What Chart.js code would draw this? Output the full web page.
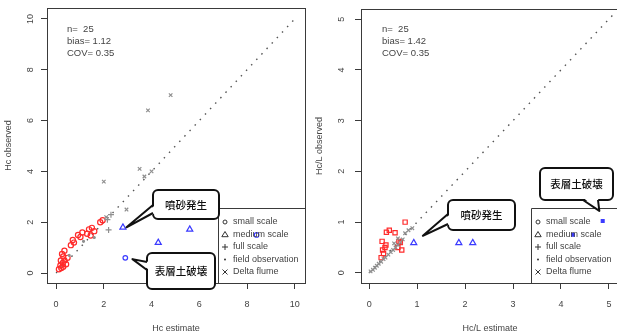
<!DOCTYPE html>
<html>
<head>
<meta charset="utf-8">
<script src="https://cdn.jsdelivr.net/npm/chart.js"></script>
<style>
  html, body { margin: 0; padding: 0; background: white; width: 617px; height: 336px; overflow: hidden; }
  .panel { position: absolute; top: 0; height: 336px; }
  #p1 { left: 0; width: 310px; }
  #p2 { left: 310px; width: 316px; }
</style>
</head>
<body>
<div class="panel" id="p1"><canvas id="c1"></canvas></div>
<div class="panel" id="p2"><canvas id="c2"></canvas></div>
<script>
// ---- left panel (Hc) ----
const leftTicks = [0, 2, 4, 6, 8, 10];
const leftRedX = [0.12, 0.18, 0.22, 0.28, 0.3, 0.35, 0.2, 0.3, 0.42, 0.25, 0.48, 0.35, 0.62, 0.7, 0.75, 0.92, 1.02, 1.1, 1.3, 1.38, 1.5, 1.6, 1.45, 1.85, 1.95];
const leftRedY = [0.15, 0.3, 0.2, 0.4, 0.25, 0.5, 0.5, 0.65, 0.35, 0.75, 0.6, 0.88, 1.1, 1.3, 1.2, 1.5, 1.42, 1.6, 1.55, 1.72, 1.78, 1.65, 1.48, 2.0, 2.08];
const leftFullX = [2.2, 2.15, 2.3];
const leftFullY = [1.7, 2.1, 2.3];
const leftDeltaX = [2.0, 3.85, 4.8, 3.5, 4.0, 3.7, 2.95, 2.1];
const leftDeltaY = [3.6, 6.4, 7.0, 4.1, 4.0, 3.8, 2.5, 2.2];
const leftFieldX = [0.55, 1.15, 1.6];
const leftFieldY = [0.7, 1.25, 1.4];
const leftBlueTriX = [2.8, 4.28, 5.6];
const leftBlueTriY = [1.8, 1.2, 1.72];
const leftBlueDotX = [2.9, 8.4];
const leftBlueDotY = [0.6, 1.5];
const leftStats = ['n=  25', 'bias= 1.12', 'COV= 0.35'];

// ---- right panel (Hc/L) ----
const rightTicks = [0, 1, 2, 3, 4, 5];
const rightGrayX = [0.03, 0.08, 0.12, 0.16, 0.2, 0.25, 0.3, 0.34, 0.4, 0.45, 0.5, 0.55, 0.6, 0.65, 0.7, 0.52, 0.6, 0.75, 0.82, 0.9];
const rightGrayY = [0.03, 0.06, 0.1, 0.14, 0.18, 0.22, 0.27, 0.3, 0.36, 0.41, 0.45, 0.5, 0.55, 0.6, 0.66, 0.58, 0.68, 0.78, 0.84, 0.88];
const rightRedX = [0.25, 0.3, 0.28, 0.35, 0.27, 0.33, 0.6, 0.65, 0.68, 0.62, 0.36, 0.42, 0.54, 0.75];
const rightRedY = [0.3, 0.38, 0.45, 0.55, 0.62, 0.5, 0.5, 0.6, 0.45, 0.62, 0.8, 0.84, 0.79, 1.0];
const rightBlueTriX = [0.93, 1.87, 2.16];
const rightBlueTriY = [0.59, 0.59, 0.59];
const rightBlueDotX = [4.87, 4.25];
const rightBlueDotY = [1.02, 0.75];
const rightStats = ['n=  25', 'bias= 1.42', 'COV= 0.35'];

const legendLabels = ['small scale', 'medium scale', 'full scale', 'field observation', 'Delta flume'];
const legendSymbols = ['circle', 'triangle', 'cross', 'dot', 'crossRot'];

const RED = '#ff2a2a', BLUE = '#3b3bff', GRAY = '#8f8f8f', INK = '#3a3a3a', TXT = '#444';
const FONT = '"Liberation Sans", Arial, sans-serif';
const CJK = '"Noto Sans CJK JP", sans-serif';

const pts = (xs, ys) => xs.map((x, i) => ({ x: x, y: ys[i] }));

function symbol(ctx, kind, x, y, color) {
  ctx.save();
  ctx.strokeStyle = color; ctx.fillStyle = color; ctx.lineWidth = 1;
  ctx.beginPath();
  if (kind === 'circle') { ctx.arc(x, y, 2, 0, Math.PI * 2); ctx.stroke(); }
  else if (kind === 'triangle') { ctx.moveTo(x, y - 3); ctx.lineTo(x + 3.2, y + 2.2); ctx.lineTo(x - 3.2, y + 2.2); ctx.closePath(); ctx.stroke(); }
  else if (kind === 'cross') { ctx.moveTo(x - 3, y); ctx.lineTo(x + 3, y); ctx.moveTo(x, y - 3); ctx.lineTo(x, y + 3); ctx.stroke(); }
  else if (kind === 'dot') { ctx.arc(x, y, 1, 0, Math.PI * 2); ctx.fill(); }
  else { ctx.moveTo(x - 2.5, y - 2.5); ctx.lineTo(x + 2.5, y + 2.5); ctx.moveTo(x + 2.5, y - 2.5); ctx.lineTo(x - 2.5, y + 2.5); ctx.stroke(); }
  ctx.restore();
}

function callout(ctx, c, tip) {
  ctx.save();
  ctx.lineWidth = 2; ctx.strokeStyle = '#111'; ctx.fillStyle = '#fff'; ctx.lineJoin = 'round';
  const r = 5;
  ctx.beginPath();
  ctx.moveTo(c.x + r, c.y);
  ctx.arcTo(c.x + c.w, c.y, c.x + c.w, c.y + c.h, r);
  ctx.arcTo(c.x + c.w, c.y + c.h, c.x, c.y + c.h, r);
  ctx.arcTo(c.x, c.y + c.h, c.x, c.y, r);
  ctx.arcTo(c.x, c.y, c.x + c.w, c.y, r);
  ctx.closePath();
  ctx.fill(); ctx.stroke();
  const [b1, b2] = c.base;
  const inset = c.side === 'left' ? [2.5, 0] : [0, -2.5];
  ctx.beginPath();
  ctx.moveTo(b1[0] + inset[0], b1[1] + inset[1]);
  ctx.lineTo(tip.x, tip.y);
  ctx.lineTo(b2[0] + inset[0], b2[1] + inset[1]);
  ctx.closePath(); ctx.fill();
  ctx.beginPath();
  ctx.moveTo(b1[0], b1[1]); ctx.lineTo(tip.x, tip.y); ctx.lineTo(b2[0], b2[1]);
  ctx.stroke();
  ctx.fillStyle = '#111'; ctx.font = '500 10.5px ' + CJK;
  ctx.textAlign = 'center'; ctx.textBaseline = 'middle';
  ctx.fillText(c.text, c.x + c.w / 2, c.y + c.h / 2 + 0.5);
  ctx.restore();
}

const panelDecor = {
  id: 'panelDecor',
  afterDraw(chart, args, o) {
    const { ctx, chartArea: a, scales } = chart;
    ctx.save();
    ctx.strokeStyle = INK; ctx.lineWidth = 1;
    ctx.strokeRect(Math.round(a.left) + 0.5, Math.round(a.top) + 0.5, Math.round(a.right - a.left), Math.round(a.bottom - a.top));
    // rotated y tick labels
    ctx.fillStyle = TXT; ctx.font = '9px ' + FONT;
    ctx.textAlign = 'center'; ctx.textBaseline = 'middle';
    scales.y.ticks.forEach(t => {
      ctx.save();
      ctx.translate(o.yLabelX, scales.y.getPixelForValue(t.value));
      ctx.rotate(-Math.PI / 2);
      ctx.fillText(t.label, 0, 0);
      ctx.restore();
    });
    // stats text
    ctx.textAlign = 'left'; ctx.font = '9.5px ' + FONT;
    o.stats.forEach((s, i) => ctx.fillText(s, o.statsX, o.statsY + i * 12.2));
    // legend box
    const lx = o.legendX, ly = a.bottom - 75;
    ctx.strokeStyle = INK;
    ctx.beginPath();
    ctx.moveTo(lx + 0.5, a.bottom); ctx.lineTo(lx + 0.5, ly + 0.5); ctx.lineTo(a.right + 1, ly + 0.5);
    ctx.stroke();
    ctx.font = '9px ' + FONT; ctx.fillStyle = TXT;
    legendLabels.forEach((lab, i) => {
      const yy = ly + 14 + i * 12.5;
      symbol(ctx, legendSymbols[i], lx + 7, yy, '#333');
      ctx.fillStyle = TXT;
      ctx.fillText(lab, lx + 15, yy);
    });
    ctx.restore();
    // callouts
    o.callouts.forEach(c => {
      const tip = { x: scales.x.getPixelForValue(c.tip[0]), y: scales.y.getPixelForValue(c.tip[1]) };
      callout(ctx, c, tip);
    });
  }
};

function makeChart(id, cfg) {
  const axisCommon = (ticks, min, max) => ({
    type: 'linear', min: min, max: max,
    afterBuildTicks: s => { s.ticks = ticks.map(v => ({ value: v })); },
    grid: { display: true, drawOnChartArea: false, drawTicks: true, tickLength: 6, color: INK },
    border: { display: false }
  });
  const xAxis = axisCommon(cfg.ticks, cfg.xMin, cfg.xMax);
  xAxis.ticks = { color: TXT, font: { family: FONT, size: 9 }, padding: 10, maxRotation: 0 };
  xAxis.title = { display: true, text: cfg.xTitle, color: TXT, font: { family: FONT, size: 9 }, padding: { top: 0, bottom: 2.5 } };
  xAxis.afterFit = s => { s.height = 53; };
  const yAxis = axisCommon(cfg.ticks, cfg.yMin, cfg.yMax);
  yAxis.ticks = { display: false };
  yAxis.title = { display: true, text: cfg.yTitle, color: TXT, font: { family: FONT, size: 9 }, padding: { top: cfg.yTitlePad, bottom: 0 } };
  yAxis.afterFit = s => { s.width = cfg.yWidth; };

  return new Chart(document.getElementById(id), {
    type: 'scatter',
    data: { datasets: cfg.datasets },
    options: {
      responsive: true, maintainAspectRatio: false, animation: false,
      layout: { padding: cfg.padding },
      plugins: { legend: { display: false }, tooltip: { enabled: false }, panelDecor: cfg.decor },
      scales: { x: xAxis, y: yAxis }
    },
    plugins: [panelDecor]
  });
}

const refLine = (x0, x1) => ({
  type: 'line', data: [{ x: x0, y: x0 }, { x: x1, y: x1 }], showLine: true, pointRadius: 0,
  borderColor: '#555', borderWidth: 1.4, borderDash: [1.5, 6], order: 10
});
const ds = (data, style, color, radius, fill) => ({
  data: data, pointStyle: style, pointRadius: radius, pointBorderColor: color,
  pointBackgroundColor: fill ? color : 'rgba(0,0,0,0)', pointBorderWidth: 1.2, order: 1
});

makeChart('c1', {
  ticks: leftTicks, xMin: -0.38, xMax: 10.42, yMin: -0.39, yMax: 10.43,
  xTitle: 'Hc estimate', yTitle: 'Hc observed', yTitlePad: 3, yWidth: 47,
  padding: { left: 0, right: 5, top: 8, bottom: 0 },
  datasets: [
    refLine(0, 10.1),
    ds(pts(leftFieldX, leftFieldY), 'circle', GRAY, 1, true),
    ds(pts(leftDeltaX, leftDeltaY), 'crossRot', GRAY, 2.5, false),
    ds(pts(leftFullX, leftFullY), 'cross', GRAY, 3, false),
    ds(pts(leftRedX, leftRedY), 'circle', RED, 2.6, false),
    ds(pts(leftBlueTriX, leftBlueTriY), 'triangle', BLUE, 3.5, false),
    ds(pts(leftBlueDotX, leftBlueDotY), 'circle', BLUE, 2.3, false)
  ],
  decor: {
    yLabelX: 31, stats: leftStats, statsX: 67, statsY: 29, legendX: 218,
    callouts: [
      { text: '噴砂発生', x: 153, y: 190, w: 66, h: 29, side: 'left', base: [[153, 205], [153, 213]], tip: [2.95, 1.8] },
      { text: '表層土破壊', x: 147, y: 253, w: 68, h: 36, side: 'left', base: [[147, 262], [147, 270]], tip: [3.2, 0.55] }
    ]
  }
});

makeChart('c2', {
  ticks: rightTicks, xMin: -0.17, xMax: 5.21, yMin: -0.2, yMax: 5.2,
  xTitle: 'Hc/L estimate', yTitle: 'Hc/L observed', yTitlePad: 4.5, yWidth: 51,
  padding: { left: 0, right: 7, top: 9, bottom: 0 },
  datasets: [
    refLine(0, 5.15),
    ds(pts(rightGrayX, rightGrayY), 'crossRot', GRAY, 2.5, false),
    ds(pts(rightRedX, rightRedY), 'rect', RED, 3, false),
    ds(pts(rightBlueTriX, rightBlueTriY), 'triangle', BLUE, 3.5, false),
    ds(pts(rightBlueDotX, rightBlueDotY), 'rect', BLUE, 2, true)
  ],
  decor: {
    yLabelX: 32, stats: rightStats, statsX: 72, statsY: 29, legendX: 221,
    callouts: [
      { text: '表層土破壊', x: 230, y: 168, w: 73, h: 32, side: 'bottom', base: [[273, 200], [288, 200]], tip: [4.8, 1.22] },
      { text: '噴砂発生', x: 138, y: 200, w: 67, h: 30, side: 'left', base: [[138, 214], [138, 224]], tip: [1.12, 0.73] }
    ]
  }
});
</script>
</body>
</html>
